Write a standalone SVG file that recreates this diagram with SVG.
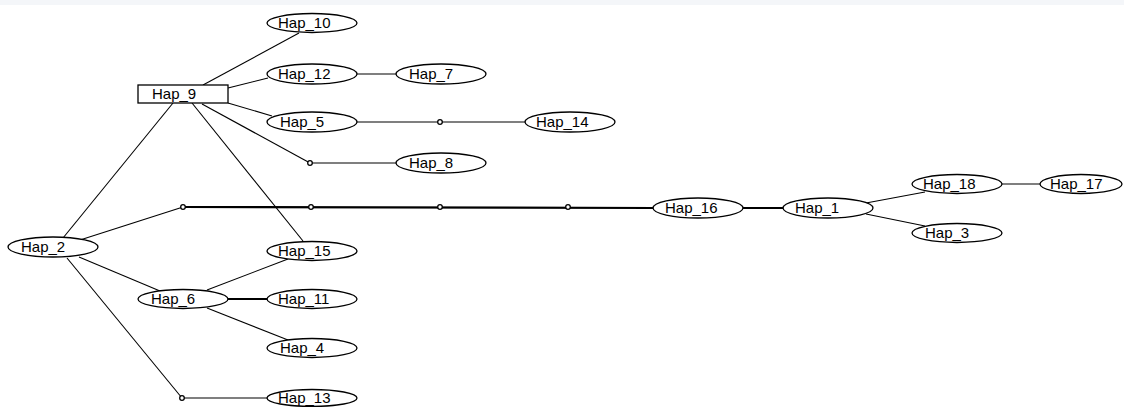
<svg xmlns="http://www.w3.org/2000/svg" width="1124" height="407" viewBox="0 0 1124 407">
<style>
.n ellipse{fill:#fff;stroke:#000;stroke-width:1.3}
.n rect{fill:#fff;stroke:#000;stroke-width:1.3}
.n text{font-family:"Liberation Sans",Arial,sans-serif;font-size:15px;fill:#000}
.e line{stroke:#000;stroke-width:1.1}
.e line.t{stroke-width:2.2}
.e circle{fill:#fff;stroke:#000;stroke-width:1.3}
</style>
<rect x="0" y="0" width="1124" height="407" fill="#fff"/>
<rect x="0" y="0" width="1124" height="5" fill="#f4f6f9"/>
<g class="e" id="connectors">
<line x1="203" y1="85" x2="299" y2="33"/>
<line x1="228" y1="88" x2="268" y2="78"/>
<line x1="357" y1="74" x2="397" y2="74"/>
<line x1="228" y1="103" x2="272" y2="116"/>
<line x1="357" y1="122" x2="526" y2="122"/>
<line x1="202" y1="104" x2="310" y2="163"/>
<line x1="310" y1="163" x2="397" y2="163"/>
<line x1="192" y1="103" x2="303" y2="241"/>
<line x1="173" y1="103" x2="63" y2="238"/>
<line x1="80" y1="240" x2="183" y2="207"/>
<line class="t" x1="183" y1="207" x2="654" y2="208"/>
<line class="t" x1="743" y1="208" x2="784" y2="208"/>
<line x1="866" y1="203" x2="925" y2="192"/>
<line x1="866" y1="214" x2="925" y2="226"/>
<line x1="1002" y1="184" x2="1040" y2="184"/>
<line x1="79" y1="257" x2="160" y2="291"/>
<line x1="207" y1="290" x2="288" y2="259"/>
<line class="t" x1="228" y1="299" x2="268" y2="299"/>
<line x1="207" y1="308" x2="288" y2="340"/>
<line x1="67" y1="258" x2="182" y2="398"/>
<line x1="182" y1="398" x2="268" y2="398"/>
<circle cx="310" cy="163" r="2.3"/>
<circle cx="440" cy="122" r="2.3"/>
<circle cx="183" cy="207" r="2.3"/>
<circle cx="311" cy="207" r="2.3"/>
<circle cx="440" cy="207" r="2.3"/>
<circle cx="568" cy="207" r="2.3"/>
<circle cx="182" cy="398" r="2.3"/>
</g>
<g class="n" id="hap9"><rect x="138" y="85" width="90" height="18"/><text x="152" y="99">Hap_9</text></g>
<g class="n" id="hap10"><ellipse cx="312" cy="23" rx="45" ry="9.5"/><text x="278" y="28">Hap_10</text></g>
<g class="n" id="hap12"><ellipse cx="312" cy="74" rx="45" ry="10"/><text x="278" y="79">Hap_12</text></g>
<g class="n" id="hap7"><ellipse cx="441" cy="74" rx="45" ry="10"/><text x="409" y="79">Hap_7</text></g>
<g class="n" id="hap5"><ellipse cx="312" cy="122" rx="45" ry="10"/><text x="280" y="127">Hap_5</text></g>
<g class="n" id="hap14"><ellipse cx="570" cy="122" rx="45" ry="10"/><text x="536" y="127">Hap_14</text></g>
<g class="n" id="hap8"><ellipse cx="441" cy="163" rx="45" ry="10"/><text x="409" y="168">Hap_8</text></g>
<g class="n" id="hap16"><ellipse cx="698" cy="208" rx="45" ry="10"/><text x="665" y="213">Hap_16</text></g>
<g class="n" id="hap1"><ellipse cx="828" cy="208" rx="45" ry="10"/><text x="795" y="213">Hap_1</text></g>
<g class="n" id="hap18"><ellipse cx="957" cy="184" rx="45" ry="9.5"/><text x="923" y="189">Hap_18</text></g>
<g class="n" id="hap17"><ellipse cx="1081" cy="184" rx="41" ry="9.5"/><text x="1050" y="189">Hap_17</text></g>
<g class="n" id="hap3"><ellipse cx="957" cy="233" rx="45" ry="9.5"/><text x="925" y="238">Hap_3</text></g>
<g class="n" id="hap2"><ellipse cx="53" cy="247" rx="45" ry="10"/><text x="21" y="252">Hap_2</text></g>
<g class="n" id="hap15"><ellipse cx="312" cy="251" rx="45" ry="9.5"/><text x="278" y="256">Hap_15</text></g>
<g class="n" id="hap6"><ellipse cx="183" cy="299" rx="45" ry="9.5"/><text x="151" y="304">Hap_6</text></g>
<g class="n" id="hap11"><ellipse cx="312" cy="299" rx="45" ry="9.5"/><text x="278" y="304">Hap_11</text></g>
<g class="n" id="hap4"><ellipse cx="312" cy="348" rx="45" ry="9.5"/><text x="280" y="353">Hap_4</text></g>
<g class="n" id="hap13"><ellipse cx="312" cy="398" rx="45" ry="8.5"/><text x="278" y="403">Hap_13</text></g>
</svg>
